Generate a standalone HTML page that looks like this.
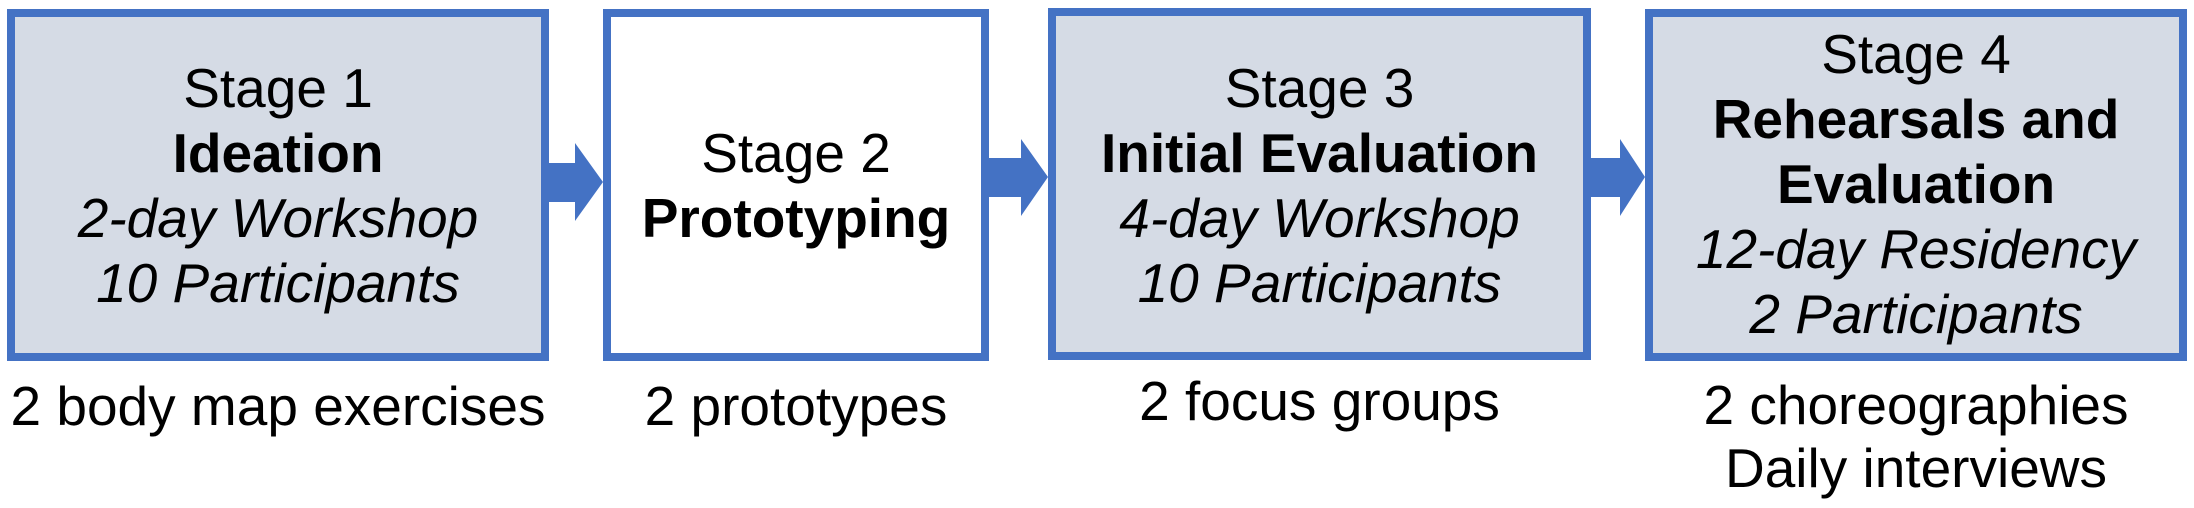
<!DOCTYPE html>
<html><head><style>
body{margin:0;width:2194px;height:508px;background:#fff;position:relative;overflow:hidden;font-family:"Liberation Sans",Arial,sans-serif;color:#000}
.box{position:absolute;box-sizing:border-box;border:8px solid #4472c4;background:#d5dbe5}
.t{position:absolute;text-align:center;font-size:55px;line-height:65px;white-space:nowrap}
b{font-weight:bold}i{font-style:italic}
</style></head><body>
<div class="box" style="left:7px;top:9px;width:542px;height:352px"></div>
<div class="box" style="left:603px;top:9px;width:386px;height:352px;background:#fff"></div>
<div class="box" style="left:1048px;top:8px;width:543px;height:352px"></div>
<div class="box" style="left:1645px;top:9px;width:542px;height:352px"></div>
<svg width="2194" height="508" style="position:absolute;left:0;top:0">
<polygon fill="#4472c4" points="549,163 575,163 575,143 603,182 575,221 575,202 549,202"/>
<polygon fill="#4472c4" points="989,158 1021,158 1021,139 1048,177 1021,216 1021,197 989,197"/>
<polygon fill="#4472c4" points="1591,158 1620,158 1620,139 1645,177 1620,216 1620,197 1591,197"/>
</svg>
<div class="t" style="left:7px;width:542px;top:56px">Stage 1<br><b>Ideation</b><br><i>2-day Workshop</i><br><i>10 Participants</i></div>
<div class="t" style="left:603px;width:386px;top:121px">Stage 2<br><b>Prototyping</b></div>
<div class="t" style="left:1048px;width:543px;top:56px">Stage 3<br><b>Initial Evaluation</b><br><i>4-day Workshop</i><br><i>10 Participants</i></div>
<div class="t" style="left:1645px;width:542px;top:22px">Stage 4<br><b>Rehearsals and</b><br><b>Evaluation</b><br><i>12-day Residency</i><br><i>2 Participants</i></div>
<div class="t" style="left:0px;width:556px;top:374px">2 body map exercises</div>
<div class="t" style="left:603px;width:386px;top:374px">2 prototypes</div>
<div class="t" style="left:1048px;width:543px;top:369px">2 focus groups</div>
<div class="t" style="left:1645px;width:542px;top:374px;line-height:63px">2 choreographies<br>Daily interviews</div>
</body></html>
